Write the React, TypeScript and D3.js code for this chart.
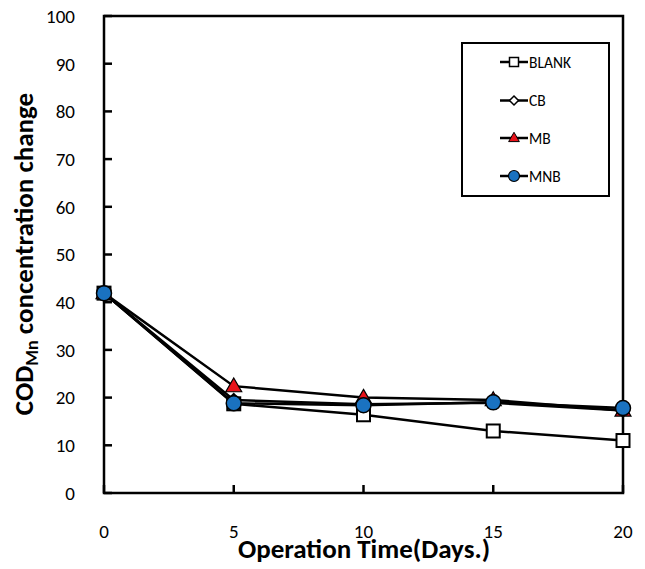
import React from "react";
import * as d3 from "d3";

const days = [0, 5, 10, 15, 20];
const blank = [41.9, 18.7, 16.4, 13.0, 11.0];
const cb = [41.9, 19.5, 18.6, 18.9, 17.3];
const mb = [41.9, 22.4, 20.0, 19.5, 17.3];
const mnb = [41.9, 18.8, 18.4, 19.0, 17.8];
const seriesNames = ["BLANK", "CB", "MB", "MNB"];
const xTicks = [0, 5, 10, 15, 20];
const yTicks = [0, 10, 20, 30, 40, 50, 60, 70, 80, 90, 100];

const W = 645, H = 569;
const L = 104, R = 623, T = 16, B = 493;

function Marker({ kind, x, y }: { kind: string; x: number; y: number }) {
  if (kind === "BLANK")
    return <rect x={x - 6.5} y={y - 6.5} width={13} height={13} fill="white" stroke="black" strokeWidth={2} />;
  if (kind === "CB") {
    const s = 6;
    return <path d={`M${x},${y - s}L${x + s},${y}L${x},${y + s}L${x - s},${y}Z`} fill="white" stroke="black" strokeWidth={2} />;
  }
  if (kind === "MB") {
    const sym = d3.symbol(d3.symbolTriangle, 110)();
    return <path d={sym || ""} transform={`translate(${x},${y + 1})`} fill="#e8121a" stroke="black" strokeWidth={1.2} />;
  }
  return <circle cx={x} cy={y} r={7.5} fill="#1a72c0" stroke="black" strokeWidth={1.5} />;
}

export default function App() {
  const x = d3.scaleLinear().domain([0, 20]).range([L, R]);
  const y = d3.scaleLinear().domain([0, 100]).range([B, T]);
  const line = d3.line<[number, number]>().x(d => x(d[0])).y(d => y(d[1]));
  const data: Record<string, number[]> = { BLANK: blank, CB: cb, MB: mb, MNB: mnb };
  const font = "Carlito, Calibri, Lato, sans-serif";
  const legendRows = [62, 100.5, 138, 176];
  return (
    <svg width={W} height={H} style={{ position: "absolute", left: 0, top: 0, background: "white" }}>
      <rect x={0} y={0} width={W} height={H} fill="white" />
      <rect x={L} y={T} width={R - L} height={B - T} fill="none" stroke="black" strokeWidth={2.5} />
      {yTicks.map(t => (
        <g key={"y" + t}>
          <line x1={L} x2={L + 8} y1={y(t)} y2={y(t)} stroke="black" strokeWidth={2.5} />
          <text x={75} y={y(t)} dy="0.36em" textAnchor="end" fontSize={19} fontFamily={font}>{t}</text>
        </g>
      ))}
      {xTicks.map(t => (
        <g key={"x" + t}>
          <line x1={x(t)} x2={x(t)} y1={B} y2={B - 8} stroke="black" strokeWidth={2.5} />
          <text x={x(t)} y={531} dy="0.36em" textAnchor="middle" fontSize={19} fontFamily={font}>{t}</text>
        </g>
      ))}
      <text x={364} y={558} textAnchor="middle" fontSize={27} fontWeight="bold" fontFamily={font}>Operation Time(Days.)</text>
      <text transform={`translate(33,254) rotate(-90)`} textAnchor="middle" fontSize={27} fontWeight="bold" fontFamily={font}>
        COD<tspan fontSize={18} dy="5">Mn</tspan><tspan dy="-5"> concentration change</tspan>
      </text>
      {seriesNames.map(n => (
        <path key={"l" + n} d={line(days.map((d, i) => [d, data[n][i]] as [number, number])) || ""} fill="none" stroke="black" strokeWidth={2.5} />
      ))}
      {seriesNames.map(n => (
        <g key={"m" + n}>
          {days.map((d, i) => <Marker key={i} kind={n} x={x(d)} y={y(data[n][i])} />)}
        </g>
      ))}
      <rect x={462} y={43} width={147} height={153} fill="white" stroke="black" strokeWidth={2} />
      {seriesNames.map((n, i) => (
        <g key={"lg" + n}>
          <line x1={500} x2={528} y1={legendRows[i]} y2={legendRows[i]} stroke="black" strokeWidth={2.5} />
          {n === "BLANK" ? (
            <rect x={509.5} y={legendRows[i] - 4.5} width={9} height={9} fill="white" stroke="black" strokeWidth={1.5} />
          ) : n === "CB" ? (
            <path d={`M514,${legendRows[i] - 4.5}L518.5,${legendRows[i]}L514,${legendRows[i] + 4.5}L509.5,${legendRows[i]}Z`} fill="white" stroke="black" strokeWidth={1.5} />
          ) : n === "MB" ? (
            <path d={d3.symbol(d3.symbolTriangle, 50)() || ""} transform={`translate(514,${legendRows[i] + 0.5})`} fill="#e8121a" stroke="black" strokeWidth={1} />
          ) : (
            <circle cx={514} cy={legendRows[i]} r={5.5} fill="#1a72c0" stroke="black" strokeWidth={1.2} />
          )}
          <text x={529} y={legendRows[i]} dy="0.36em" fontSize={15.5} fontFamily={font}>{n}</text>
        </g>
      ))}
    </svg>
  );
}
